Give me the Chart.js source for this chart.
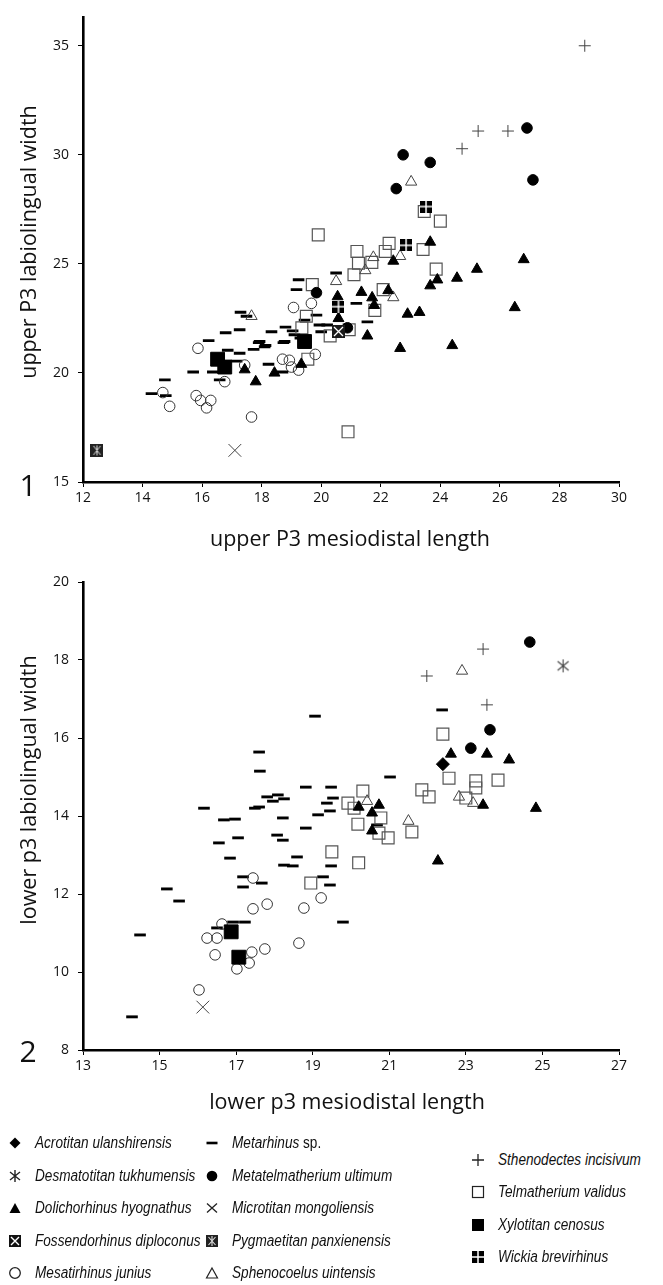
<!DOCTYPE html>
<html lang="en">
<head>
<meta charset="UTF-8">
<title>Upper P3 and lower p3 dimensions in brontotheres</title>
<script src="https://cdn.jsdelivr.net/npm/chart.js"></script>
<style>
  body { margin: 0; background: #fff; width: 663px; height: 1285px; position: relative; overflow: hidden;
         font-family: 'Open Sans', sans-serif; color: #111; }
  canvas { position: absolute; left: 0; }
  #upperChart { top: 0; }
  #lowerChart { top: 560px; }
  .title { position: absolute; font-size: 21.5px; white-space: nowrap; transform: translate(-50%, -50%); }
  .ytitle { transform: translate(-50%, -50%) rotate(-90deg); }
  .panel { position: absolute; font-size: 30px; transform: translate(-50%, -50%); }
  .item { position: absolute; white-space: nowrap; display: flex; align-items: center; transform: translateY(-50%);
          font-family: 'Liberation Sans', sans-serif; font-style: italic; font-size: 16px; }
  .item svg { margin-right: 13px; flex: none; }
  .item span { display: inline-block; transform: scaleX(0.85); transform-origin: left center; }
  .item i { font-style: normal; }
</style>
</head>
<body>
<canvas id="upperChart" width="663" height="525"></canvas>
<canvas id="lowerChart" width="663" height="530"></canvas>

<div class="panel" style="left:28px; top:484px;">1</div>
<div class="title ytitle" style="left:27px; top:242px;">upper P3 labiolingual width</div>
<div class="title" style="left:350px; top:537px;">upper P3 mesiodistal length</div>

<div class="panel" style="left:28px; top:1050px;">2</div>
<div class="title ytitle" style="left:27px; top:790px;">lower p3 labiolingual width</div>
<div class="title" style="left:347px; top:1100px;">lower p3 mesiodistal length</div>

<div id="legend"></div>

<script>
// axis ranges and tick labels
const upperXTicks = [12, 14, 16, 18, 20, 22, 24, 26, 28, 30];
const upperYTicks = [15, 20, 25, 30, 35];
const upperYMax = 36.3;
const lowerXTicks = [13, 15, 17, 19, 21, 23, 25, 27];
const lowerYTicks = [8, 10, 12, 14, 16, 18, 20];

// panel 1: upper P3 [mesiodistal length, labiolingual width]
const upperMetarhinus = [[14.3,19.05],[14.75,19.68],[14.78,18.96],[15.7,20.04],[16.22,21.48],[16.36,20.04],
  [16.59,19.68],[16.79,21.84],[17.26,21.98],[17.29,22.78],[17.49,22.6],[16.86,21.04],[17.26,20.9],[17.16,20.54],
  [17.73,21.08],[17.9,21.39],[18.13,21.26],[18.33,21.89],[18.23,20.4],[18.73,21.39],[18.8,22.1],[19.04,21.93],
  [19.1,21.75],[19.17,23.82],[19.24,24.27],[18.7,20.04],[19.84,22.65],[19.94,22.2],[20.2,22.2],[20.0,21.89],
  [20.5,24.58],[21.18,23.19],[21.55,22.34],[17.93,21.44],[18.1,21.2],[18.77,21.44],[19.44,22.42],[19.3,21.6]];
const upperMetatelmatherium = [[22.75,30.0],[23.66,29.65],[22.52,28.45],[26.91,31.23],[27.11,28.85],[19.84,23.68],[20.88,22.07]];
const upperDolichorhinus = [[17.8,19.6],[18.43,20.0],[19.33,20.4],[17.43,20.15],[20.55,23.5],[20.58,22.5],[21.55,21.7],
  [21.35,23.7],[21.71,23.45],[21.78,23.1],[22.25,23.78],[22.42,25.13],[23.66,26.0],[23.66,24.0],[23.9,24.27],
  [24.56,24.35],[25.23,24.76],[26.8,25.2],[26.5,23.0],[22.9,22.7],[23.3,22.78],[22.65,21.13],[24.4,21.26]];
const upperMicrotitan = [[17.1,16.45]];
const upperFossendorhinus = [[20.58,21.9]];
const upperPygmaetitan = [[12.47,16.45]];
const upperMesatirhinus = [[15.86,21.13],[14.68,19.1],[14.91,18.47],[15.8,18.96],[15.95,18.74],[16.15,18.4],[16.29,18.74],
  [17.66,17.98],[16.76,19.6],[17.43,20.36],[19.07,23.0],[19.67,23.19],[19.8,20.85],[18.7,20.63],[18.93,20.58],
  [19.0,20.27],[19.24,20.13]];
const upperSphenocoelus = [[23.02,28.76],[17.66,22.6],[20.5,24.2],[21.75,25.3],[21.48,24.7],[22.65,25.35],[22.42,23.46]];
const upperSthenodectes = [[28.85,35.0],[25.27,31.09],[26.27,31.09],[24.73,30.28]];
const upperTelmatherium = [[19.9,26.33],[19.7,24.05],[19.5,22.6],[19.35,22.07],[20.3,21.7],[19.55,20.63],[21.2,25.57],
  [21.25,25.03],[21.1,24.5],[21.7,25.07],[22.28,25.94],[22.15,25.57],[23.42,25.66],[23.46,27.4],[24.0,26.96],
  [23.86,24.76],[22.08,23.82],[21.8,22.87],[20.9,17.3],[20.94,21.98]];
const upperXylotitan = [[16.52,20.63],[16.76,20.27],[19.44,21.44]];
const upperWickia = [[23.52,27.63],[22.85,25.85],[20.58,23.04]];

// panel 2: lower p3 [mesiodistal length, labiolingual width]
const lowerAcrotitan = [[22.4,15.33]];
const lowerDesmatotitan = [[25.54,17.85]];
const lowerDolichorhinus = [[22.61,15.59],[23.55,15.59],[24.13,15.44],[23.45,14.28],[24.83,14.2],[22.27,12.85],
  [20.2,14.23],[20.73,14.28],[20.55,14.08],[20.55,13.62]];
const lowerMesatirhinus = [[16.03,9.54],[16.24,10.87],[16.5,10.87],[16.45,10.44],[16.63,11.23],[17.02,10.08],[17.34,10.23],
  [17.41,10.51],[17.75,10.59],[17.44,11.62],[17.81,11.74],[17.44,12.41],[18.64,10.74],[18.77,11.64],[19.22,11.9]];
const lowerMetarhinus = [[14.28,8.85],[14.49,10.95],[15.19,12.13],[15.51,11.82],[16.16,14.2],[16.55,13.31],[16.68,13.9],
  [16.97,13.92],[17.05,13.44],[16.84,12.92],[17.18,12.44],[17.18,12.18],[16.5,11.13],[16.92,11.28],[17.23,11.28],
  [17.67,12.28],[17.6,15.64],[17.62,15.15],[17.81,14.49],[17.6,14.23],[17.49,14.2],[17.96,14.38],[18.09,14.54],
  [18.25,14.44],[18.22,13.95],[18.07,13.51],[18.22,13.38],[18.25,12.74],[18.48,12.72],[18.59,12.95],[18.82,13.69],
  [19.06,16.56],[18.82,14.74],[19.14,14.03],[19.37,14.33],[19.48,14.74],[19.53,14.46],[19.45,14.13],[19.48,12.72],
  [19.27,12.44],[19.45,12.23],[19.79,11.28],[22.38,16.72],[21.02,15.0],[20.68,13.77]];
const lowerMetatelmatherium = [[24.67,18.46],[23.63,16.21],[23.13,15.74]];
const lowerMicrotitan = [[16.13,9.1]];
const lowerSphenocoelus = [[22.9,17.72],[20.42,14.38],[21.5,13.87],[22.82,14.49],[23.19,14.33]];
const lowerSthenodectes = [[23.45,18.28],[21.98,17.59],[23.55,16.85]];
const lowerTelmatherium = [[22.4,16.1],[22.56,14.97],[23.26,14.9],[23.26,14.72],[23.84,14.92],[23.0,14.46],[21.85,14.67],
  [22.04,14.49],[20.31,14.64],[19.92,14.33],[20.08,14.2],[20.78,13.95],[20.18,13.79],[20.73,13.56],[20.97,13.44],
  [21.59,13.59],[19.5,13.08],[20.2,12.8],[18.95,12.28]];
const lowerXylotitan = [[16.87,11.03],[17.07,10.38]];

// small bitmap markers for the boxed symbols
function icon(size, draw) {
  const c = document.createElement('canvas');
  c.width = size; c.height = size;
  draw(c.getContext('2d'), size);
  return c;
}
const boxCross = icon(13, (g, s) => {
  g.fillStyle = '#1a1a1a'; g.fillRect(0, 0, s, s);
  g.strokeStyle = '#fff'; g.lineWidth = 1.3; g.beginPath();
  g.moveTo(2, 2); g.lineTo(s - 2, s - 2); g.moveTo(s - 2, 2); g.lineTo(2, s - 2); g.stroke();
});
const boxStar = icon(13, (g, s) => {
  g.fillStyle = '#222'; g.fillRect(0, 0, s, s);
  g.strokeStyle = '#ddd'; g.lineWidth = 1; g.beginPath();
  g.moveTo(3, 2); g.lineTo(s - 3, s - 2); g.moveTo(s - 3, 2); g.lineTo(3, s - 2);
  g.moveTo(s / 2, 1.5); g.lineTo(s / 2, s - 1.5); g.stroke();
});
const boxPlus = icon(12, (g, s) => {
  g.fillStyle = '#000'; g.fillRect(0, 0, s, s);
  g.fillStyle = '#fff'; g.fillRect(s / 2 - 0.75, 0, 1.5, s); g.fillRect(0, s / 2 - 0.75, s, 1.5);
});
const asterisk = icon(15, (g, s) => {
  g.strokeStyle = '#444'; g.lineWidth = 1.1; g.beginPath();
  g.moveTo(2, 3); g.lineTo(s - 2, s - 3); g.moveTo(s - 2, 3); g.lineTo(2, s - 3);
  g.moveTo(s / 2, 1); g.lineTo(s / 2, s - 1); g.stroke();
});

// marker style per taxon
const markers = {
  'Acrotitan ulanshirensis':    { pointStyle: 'rectRot', pointRadius: 6.5, backgroundColor: '#000', borderColor: '#000', borderWidth: 1 },
  'Desmatotitan tukhumensis':   { pointStyle: asterisk },
  'Dolichorhinus hyognathus':   { pointStyle: 'triangle', pointRadius: 6.3, backgroundColor: '#000', borderColor: '#000', borderWidth: 1 },
  'Fossendorhinus diploconus':  { pointStyle: boxCross },
  'Mesatirhinus junius':        { pointStyle: 'circle', pointRadius: 5.3, backgroundColor: 'rgba(0,0,0,0)', borderColor: '#333', borderWidth: 1 },
  'Metarhinus sp.':             { pointStyle: 'line', pointRadius: 5.8, backgroundColor: '#000', borderColor: '#000', borderWidth: 2.9 },
  'Metatelmatherium ultimum':   { pointStyle: 'circle', pointRadius: 5.3, backgroundColor: '#000', borderColor: '#000', borderWidth: 1 },
  'Microtitan mongoliensis':    { pointStyle: 'crossRot', pointRadius: 9, backgroundColor: '#444', borderColor: '#444', borderWidth: 1 },
  'Pygmaetitan panxienensis':   { pointStyle: boxStar },
  'Sphenocoelus uintensis':     { pointStyle: 'triangle', pointRadius: 6.5, backgroundColor: 'rgba(0,0,0,0)', borderColor: '#444', borderWidth: 1 },
  'Sthenodectes incisivum':     { pointStyle: 'cross', pointRadius: 6, backgroundColor: '#444', borderColor: '#444', borderWidth: 1 },
  'Telmatherium validus':       { pointStyle: 'rect', pointRadius: 8.4, backgroundColor: 'rgba(0,0,0,0)', borderColor: '#555', borderWidth: 1.2 },
  'Xylotitan cenosus':          { pointStyle: 'rect', pointRadius: 9.8, backgroundColor: '#000', borderColor: '#000', borderWidth: 1 },
  'Wickia brevirhinus':         { pointStyle: boxPlus }
};

const upperSets = [
  ['Metarhinus sp.', upperMetarhinus], ['Mesatirhinus junius', upperMesatirhinus],
  ['Telmatherium validus', upperTelmatherium], ['Sphenocoelus uintensis', upperSphenocoelus],
  ['Sthenodectes incisivum', upperSthenodectes], ['Microtitan mongoliensis', upperMicrotitan],
  ['Dolichorhinus hyognathus', upperDolichorhinus], ['Metatelmatherium ultimum', upperMetatelmatherium],
  ['Xylotitan cenosus', upperXylotitan], ['Wickia brevirhinus', upperWickia],
  ['Fossendorhinus diploconus', upperFossendorhinus], ['Pygmaetitan panxienensis', upperPygmaetitan]
];
const lowerSets = [
  ['Metarhinus sp.', lowerMetarhinus], ['Mesatirhinus junius', lowerMesatirhinus],
  ['Telmatherium validus', lowerTelmatherium], ['Sphenocoelus uintensis', lowerSphenocoelus],
  ['Sthenodectes incisivum', lowerSthenodectes], ['Microtitan mongoliensis', lowerMicrotitan],
  ['Desmatotitan tukhumensis', lowerDesmatotitan], ['Dolichorhinus hyognathus', lowerDolichorhinus],
  ['Metatelmatherium ultimum', lowerMetatelmatherium], ['Acrotitan ulanshirensis', lowerAcrotitan],
  ['Xylotitan cenosus', lowerXylotitan]
];

function axis(ticks, min, max, fit, pad) {
  return {
    type: 'linear', min: min, max: max,
    afterBuildTicks: s => { s.ticks = ticks.map(v => ({ value: v })); },
    afterFit: fit,
    border: { display: true, color: '#000', width: 2.6 },
    grid: { drawOnChartArea: false, color: '#000', lineWidth: 1, tickLength: 5 },
    ticks: { color: '#111', font: { family: 'Open Sans', size: 14 }, padding: pad, autoSkip: false, maxRotation: 0 }
  };
}

function makeChart(id, sets, xTicks, yTicks, yMax, padTop, xAxisHeight) {
  const datasets = sets.map(([name, pts], i) => Object.assign({
    label: name,
    data: pts.map(p => ({ x: p[0], y: p[1] })),
    order: sets.length - i
  }, markers[name]));
  return new Chart(document.getElementById(id), {
    type: 'scatter',
    data: { datasets: datasets },
    options: {
      responsive: false,
      animation: false,
      layout: { padding: { top: padTop, right: 44, left: 0, bottom: 0 } },
      plugins: { legend: { display: false }, tooltip: { enabled: false } },
      scales: {
        x: axis(xTicks, xTicks[0], xTicks[xTicks.length - 1], s => { s.height = xAxisHeight; }, 3),
        y: axis(yTicks, yTicks[0], yMax, s => { s.width = 83; }, 9)
      }
    }
  });
}

makeChart('upperChart', upperSets, upperXTicks, upperYTicks, upperYMax, 8, 43);
makeChart('lowerChart', lowerSets, lowerXTicks, lowerYTicks, lowerYTicks[lowerYTicks.length - 1], 22, 40);

// legend, three columns as in the figure
const svgMarks = {
  'Acrotitan ulanshirensis': '<polygon points="7,1.5 12.5,7 7,12.5 1.5,7" fill="#000"/>',
  'Desmatotitan tukhumensis': '<path d="M2,3 L12,11 M12,3 L2,11 M7,1 L7,13" stroke="#222" stroke-width="1.4" fill="none"/>',
  'Dolichorhinus hyognathus': '<polygon points="7,2 12.5,12 1.5,12" fill="#000"/>',
  'Fossendorhinus diploconus': '<rect x="1" y="1" width="12" height="12" fill="#111"/><path d="M3,3 L11,11 M11,3 L3,11" stroke="#fff" stroke-width="1.4"/>',
  'Mesatirhinus junius': '<circle cx="7" cy="7" r="5.3" fill="none" stroke="#222" stroke-width="1.3"/>',
  'Metarhinus sp.': '<rect x="1.5" y="5.7" width="11" height="2.6" fill="#000"/>',
  'Metatelmatherium ultimum': '<circle cx="7" cy="7" r="5.3" fill="#000"/>',
  'Microtitan mongoliensis': '<path d="M2,2.5 L12,11.5 M12,2.5 L2,11.5" stroke="#222" stroke-width="1.3" fill="none"/>',
  'Pygmaetitan panxienensis': '<rect x="1" y="1" width="12" height="12" fill="#222"/><path d="M3.5,3 L10.5,11 M10.5,3 L3.5,11 M7,2 L7,12" stroke="#ddd" stroke-width="1.1"/>',
  'Sphenocoelus uintensis': '<polygon points="7,2 12.5,12 1.5,12" fill="none" stroke="#222" stroke-width="1.2"/>',
  'Sthenodectes incisivum': '<path d="M7,1 L7,13 M1,7 L13,7" stroke="#222" stroke-width="1.3" fill="none"/>',
  'Telmatherium validus': '<rect x="1.5" y="1.5" width="11" height="11" fill="none" stroke="#222" stroke-width="1.2"/>',
  'Xylotitan cenosus': '<rect x="1" y="1" width="12" height="12" fill="#000"/>',
  'Wickia brevirhinus': '<rect x="1" y="1" width="12" height="12" fill="#000"/><path d="M7,1 L7,13 M1,7 L13,7" stroke="#fff" stroke-width="1.5"/>'
};
const legendCols = [
  { x: 8, rows: [1143, 1176, 1208, 1241, 1273],
    names: ['Acrotitan ulanshirensis', 'Desmatotitan tukhumensis', 'Dolichorhinus hyognathus', 'Fossendorhinus diploconus', 'Mesatirhinus junius'] },
  { x: 205, rows: [1143, 1176, 1208, 1241, 1273],
    names: ['Metarhinus sp.', 'Metatelmatherium ultimum', 'Microtitan mongoliensis', 'Pygmaetitan panxienensis', 'Sphenocoelus uintensis'] },
  { x: 471, rows: [1160, 1192, 1225, 1257],
    names: ['Sthenodectes incisivum', 'Telmatherium validus', 'Xylotitan cenosus', 'Wickia brevirhinus'] }
];
const legend = document.getElementById('legend');
legendCols.forEach(col => {
  col.names.forEach((name, i) => {
    const div = document.createElement('div');
    div.className = 'item';
    div.style.left = col.x + 'px';
    div.style.top = col.rows[i] + 'px';
    const label = name === 'Metarhinus sp.' ? 'Metarhinus <i>sp.</i>' : name;
    div.innerHTML = '<svg width="14" height="14" viewBox="0 0 14 14">' + svgMarks[name] + '</svg><span>' + label + '</span>';
    legend.appendChild(div);
  });
});
</script>
</body>
</html>
